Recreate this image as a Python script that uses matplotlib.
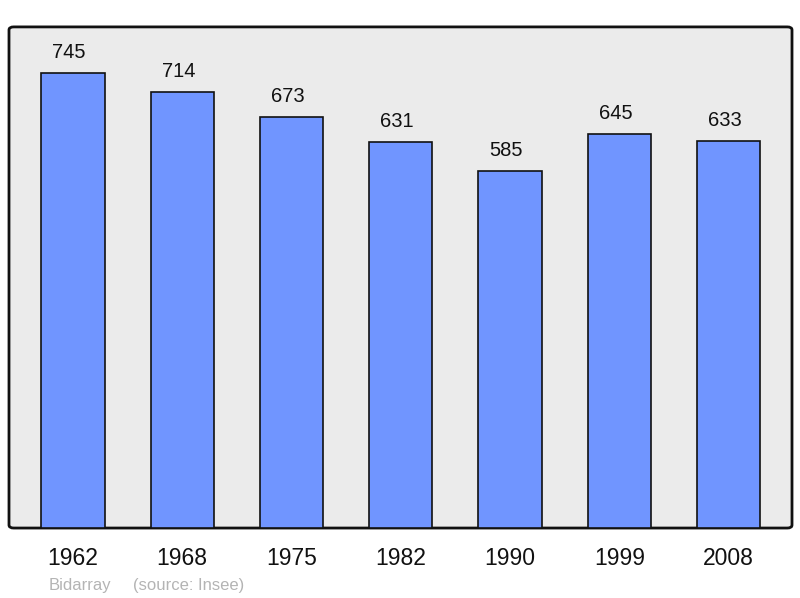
import matplotlib.pyplot as plt
from matplotlib.patches import FancyBboxPatch

plt.rcParams['font.family'] = ['Liberation Sans', 'DejaVu Sans']

years = ['1962', '1968', '1975', '1982', '1990', '1999', '2008']
population = [745, 714, 673, 631, 585, 645, 633]

fig = plt.figure(figsize=(8, 5.98), dpi=100)
ax = fig.add_axes([0.01125, 0.117, 0.97875, 0.838])
ax.set_facecolor('none')

# rounded grey frame behind the bars
frame = FancyBboxPatch((0, 0), 1, 1, boxstyle='round,pad=0,rounding_size=0.006',
                       transform=ax.transAxes, facecolor='#ebebeb',
                       edgecolor='#111111', linewidth=2, zorder=0, clip_on=False)
ax.add_patch(frame)

x = range(len(years))
bars = ax.bar(x, population, width=0.58, color='#7095ff', edgecolor='#111111',
              linewidth=1.2, zorder=2)

# value labels sit a bit left of the bar centre, like the original
for xi, val in zip(x, population):
    ax.text(xi - 0.035, val + 18, str(val), ha='center', va='bottom', fontsize=14.5, color='#111111')

ax.set_xlim(-0.585, 6.58)
ax.set_ylim(0, 820)
ax.set_xticks(list(x))
ax.set_xticklabels(years, fontsize=16.5, color='#111111')
ax.tick_params(axis='x', length=0, pad=14)
ax.set_yticks([])
for s in ax.spines.values():
    s.set_visible(False)

fig.text(0.061, 0.013, 'Bidarray', fontsize=12, color='#b4b4b4')
fig.text(0.166, 0.013, '(source: Insee)', fontsize=12, color='#b4b4b4')

fig.savefig('out.png', dpi=100)
